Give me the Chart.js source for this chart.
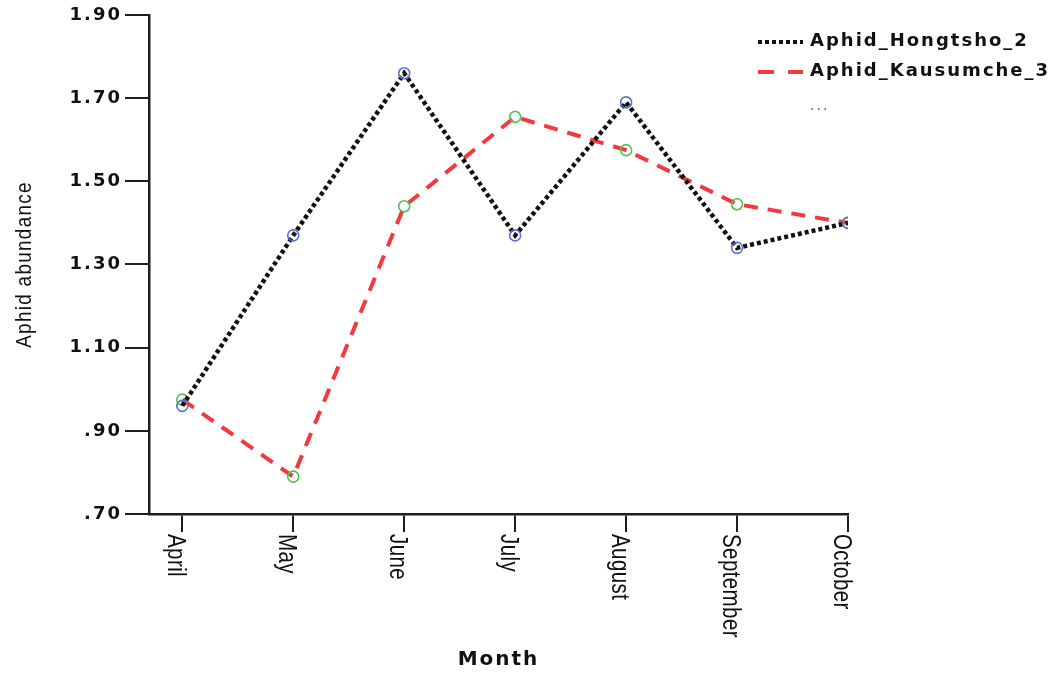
<!DOCTYPE html>
<html>
<head>
<meta charset="utf-8">
<title>Aphid abundance</title>
<script src="https://cdn.jsdelivr.net/npm/chart.js@4.4.1/dist/chart.umd.min.js"></script>
<style>
  html, body { margin: 0; padding: 0; background: #fff; }
  .chart-box { width: 1059px; height: 673px; }
</style>
</head>
<body>
<div class="chart-box"><canvas class="line-chart"></canvas></div>
<script>
const months = ['April', 'May', 'June', 'July', 'August', 'September', 'October'];
const hongtsho = [0.96, 1.37, 1.76, 1.37, 1.69, 1.34, 1.40];
const kausumche = [0.975, 0.79, 1.44, 1.655, 1.575, 1.445, 1.40];
const yTicks = [0.7, 0.9, 1.1, 1.3, 1.5, 1.7, 1.9];
const seriesNames = ['Aphid_Hongtsho_2', 'Aphid_Kausumche_3'];
const yTitle = 'Aphid abundance';

const lineColors = ['#111111', 'rgb(242, 58, 62)'];
const markerColors = ['rgb(92, 112, 205)', 'rgb(78, 196, 78)'];
const dashes = [[4, 3], [14, 10]];
const axisColor = '#1e1e1e';
// no narrow font installed, so squeeze the regular one
const narrowFont = '25px "Liberation Sans", sans-serif';
const squeeze = 0.82;

function toPoints(values) {
  return values.map((v, i) => ({ x: i, y: v }));
}

// SPSS writes .70 instead of 0.70
function formatTick(value) {
  const s = value.toFixed(2);
  return value < 1 ? s.slice(1) : s;
}

const spacingPlugin = {
  id: 'spacing',
  beforeDraw(chart) {
    chart.ctx.letterSpacing = '2px';
  },
};

// month names read top to bottom, the built in ticks only rotate the other way
const sideTexts = {
  id: 'sideTexts',
  afterDraw(chart) {
    const ctx = chart.ctx;
    const xScale = chart.scales.x;
    const area = chart.chartArea;
    ctx.save();
    ctx.letterSpacing = '0.5px';
    ctx.font = narrowFont;
    ctx.fillStyle = '#111';
    ctx.textAlign = 'left';
    ctx.textBaseline = 'alphabetic';
    months.forEach((month, i) => {
      ctx.save();
      ctx.translate(xScale.getPixelForValue(i), xScale.top + 20);
      ctx.rotate(Math.PI / 2);
      ctx.scale(squeeze, 1);
      ctx.fillText(month, 0, 14);
      ctx.restore();
    });

    ctx.save();
    ctx.font = '22px "Liberation Sans", sans-serif';
    ctx.letterSpacing = '1.5px';
    ctx.textAlign = 'center';
    ctx.textBaseline = 'middle';
    ctx.translate(25, (area.top + area.bottom) / 2);
    ctx.rotate(-Math.PI / 2);
    ctx.scale(0.86, 1);
    ctx.fillText(yTitle, 0, 0);
    ctx.restore();
    ctx.restore();
  },
};

const legendBox = {
  id: 'legendBox',
  afterDraw(chart) {
    const ctx = chart.ctx;
    ctx.save();
    ctx.letterSpacing = '2px';
    ctx.font = 'bold 18px "DejaVu Sans", sans-serif';
    ctx.textBaseline = 'middle';
    ctx.textAlign = 'left';
    seriesNames.forEach((name, i) => {
      const y = 42 + i * 30;
      ctx.beginPath();
      ctx.setLineDash(i === 0 ? [4, 3] : [16, 14]);
      ctx.lineWidth = 4;
      ctx.strokeStyle = lineColors[i];
      ctx.moveTo(758, y);
      ctx.lineTo(803, y);
      ctx.stroke();
      ctx.fillStyle = '#111';
      ctx.fillText(name, 810, y - 1);
    });
    ctx.font = '14px "DejaVu Sans", sans-serif';
    ctx.fillStyle = '#555';
    ctx.fillText('...', 810, 106);
    ctx.restore();
  },
};

const renderChart = () => {
  const canvas = document.querySelector('.line-chart');

  new Chart(canvas, {
    type: 'line',
    data: {
      datasets: [
        {
          label: seriesNames[0],
          data: toPoints(hongtsho),
          borderColor: lineColors[0],
          borderWidth: 4.5,
          borderDash: dashes[0],
          pointRadius: 5.5,
          pointBorderWidth: 1.6,
          pointBorderColor: markerColors[0],
          pointBackgroundColor: 'rgba(0, 0, 0, 0)',
          fill: false,
        },
        {
          label: seriesNames[1],
          data: toPoints(kausumche),
          borderColor: lineColors[1],
          borderWidth: 4,
          borderDash: dashes[1],
          pointRadius: 5.5,
          pointBorderWidth: 1.6,
          pointBorderColor: markerColors[1],
          pointBackgroundColor: 'rgba(0, 0, 0, 0)',
          fill: false,
        },
      ],
    },
    options: {
      responsive: true,
      maintainAspectRatio: false,
      animation: false,
      elements: { line: { tension: 0 } },
      layout: { padding: { top: 15, right: 211, bottom: 0, left: 0 } },
      plugins: {
        legend: { display: false },
        tooltip: { enabled: false },
      },
      scales: {
        x: {
          type: 'linear',
          min: -0.3,
          max: months.length - 1,
          afterBuildTicks: (scale) => {
            scale.ticks = months.map((m, i) => ({ value: i }));
          },
          afterFit: (scale) => {
            scale.height = 159;
          },
          ticks: { display: false },
          grid: {
            drawOnChartArea: false,
            drawTicks: true,
            tickLength: 18,
            color: axisColor,
            lineWidth: 2,
          },
          border: { color: axisColor, width: 2.5 },
          title: {
            display: true,
            text: 'Month',
            color: '#111',
            font: { family: '"DejaVu Sans", sans-serif', size: 20, weight: 'bold' },
            padding: { top: 0, bottom: 1 },
          },
        },
        y: {
          min: yTicks[0],
          max: yTicks[yTicks.length - 1],
          afterBuildTicks: (scale) => {
            scale.ticks = yTicks.map((v) => ({ value: v }));
          },
          afterFit: (scale) => {
            scale.width = 149;
          },
          ticks: {
            callback: (value) => formatTick(value),
            color: '#111',
            padding: 3,
            font: { family: '"DejaVu Sans", sans-serif', size: 18, weight: 'bold' },
          },
          grid: {
            drawOnChartArea: false,
            drawTicks: true,
            tickLength: 24,
            color: axisColor,
            lineWidth: 2,
          },
          border: { color: axisColor, width: 2.5 },
        },
      },
    },
    plugins: [spacingPlugin, sideTexts, legendBox],
  });
};

renderChart();
</script>
</body>
</html>
